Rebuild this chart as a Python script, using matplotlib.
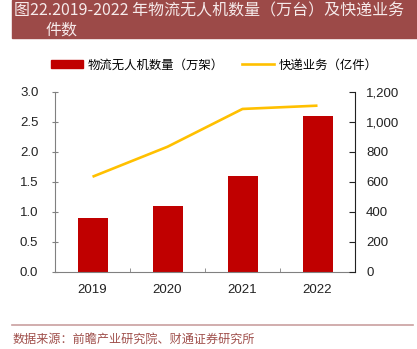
import matplotlib.pyplot as plt
from matplotlib.ticker import FuncFormatter, FixedLocator
from matplotlib.lines import Line2D
from matplotlib.patches import Patch, Rectangle

# data
years = ["2019", "2020", "2021", "2022"]
drones = [0.9, 1.1, 1.6, 2.6]          # 万架
parcels = [633, 833, 1085, 1107]       # 亿件

title_1 = "图22.2019-2022 年物流无人机数量（万台）及快递业务"
title_2 = "件数"
source = "数据来源：前瞻产业研究院、财通证券研究所"

cjk = ["Noto Sans CJK SC", "DejaVu Sans"]
num_font = "Liberation Sans"

fig = plt.figure(figsize=(4.17, 3.49), dpi=100)

# title banner
fig.patches.append(Rectangle((12 / 417, 1 - 38 / 349), 1, 38 / 349,
                             transform=fig.transFigure, color="#9C4A48", zorder=0))
fig.text(14 / 417, 1 - 11 / 349, title_1, family=cjk, fontsize=11.5,
         color="#F6EAEA", va="center", ha="left")
fig.text(46 / 417, 1 - 30 / 349, title_2, family=cjk, fontsize=11.5,
         color="#F6EAEA", va="center", ha="left")

ax = fig.add_axes([55 / 417, 1 - 271.7 / 349, 300 / 417, 180 / 349])
ax2 = ax.twinx()

x = list(range(len(years)))
ax.bar(x, drones, width=0.4, color="#C00000", zorder=2)
ax2.plot(x, parcels, color="#FFC000", lw=1.9, solid_capstyle="butt")

ax.set_xlim(-0.5, 3.5)
ax.set_ylim(0, 3.0)
ax.set_yticks([0, 0.5, 1.0, 1.5, 2.0, 2.5, 3.0])
ax.yaxis.set_major_formatter(FuncFormatter(lambda v, p: f"{v:.1f}"))
ax2.set_ylim(0, 1200)
ax2.set_yticks(range(0, 1201, 200))
ax2.yaxis.set_major_formatter(FuncFormatter(lambda v, p: f"{int(v):,}"))

ax.set_xticks(x)
ax.set_xticklabels(years)
ax.xaxis.set_minor_locator(FixedLocator([0.5, 1.5, 2.5]))
ax.tick_params(axis="x", which="major", length=0, pad=9)
ax.tick_params(axis="x", which="minor", length=3, direction="in", color="#808080")
ax.tick_params(axis="y", direction="inout", length=4, color="#808080", pad=10)
ax2.tick_params(axis="y", direction="in", length=4, color="#222222", pad=8)

for a in (ax, ax2):
    for lab in a.get_xticklabels() + a.get_yticklabels():
        lab.set_family(num_font)
        lab.set_fontsize(9.5)
        lab.set_color("#222222")

ax.spines["top"].set_visible(False)
ax2.spines["top"].set_visible(False)
ax.spines["left"].set_color("#808080")
ax.spines["bottom"].set_color("#808080")
ax.spines["right"].set_visible(False)
ax2.spines["left"].set_visible(False)
ax2.spines["bottom"].set_visible(False)
ax2.spines["right"].set_color("#222222")

# legend
handles = [Patch(color="#C00000"), Line2D([0], [0], color="#FFC000", lw=1.9)]
labels = ["物流无人机数量（万架）", "快递业务（亿件）"]
fig.legend(handles, labels, loc="center left", bbox_to_anchor=(51 / 417, 1 - 65 / 349),
           ncol=2, frameon=False, prop={"family": cjk, "size": 8.9},
           handlelength=2.6, handleheight=0.6, handletextpad=0.4,
           columnspacing=1.4, borderpad=0, borderaxespad=0)

# footer
fig.add_artist(Line2D([12 / 417, 413 / 417], [1 - 325 / 349, 1 - 325 / 349],
                      transform=fig.transFigure, color="#C9A0A0", lw=1.2))
fig.text(13 / 417, 1 - 339 / 349, source, family=cjk, fontsize=8.7,
         color="#A0504C", va="center", ha="left")

fig.savefig("out.png", dpi=100)
